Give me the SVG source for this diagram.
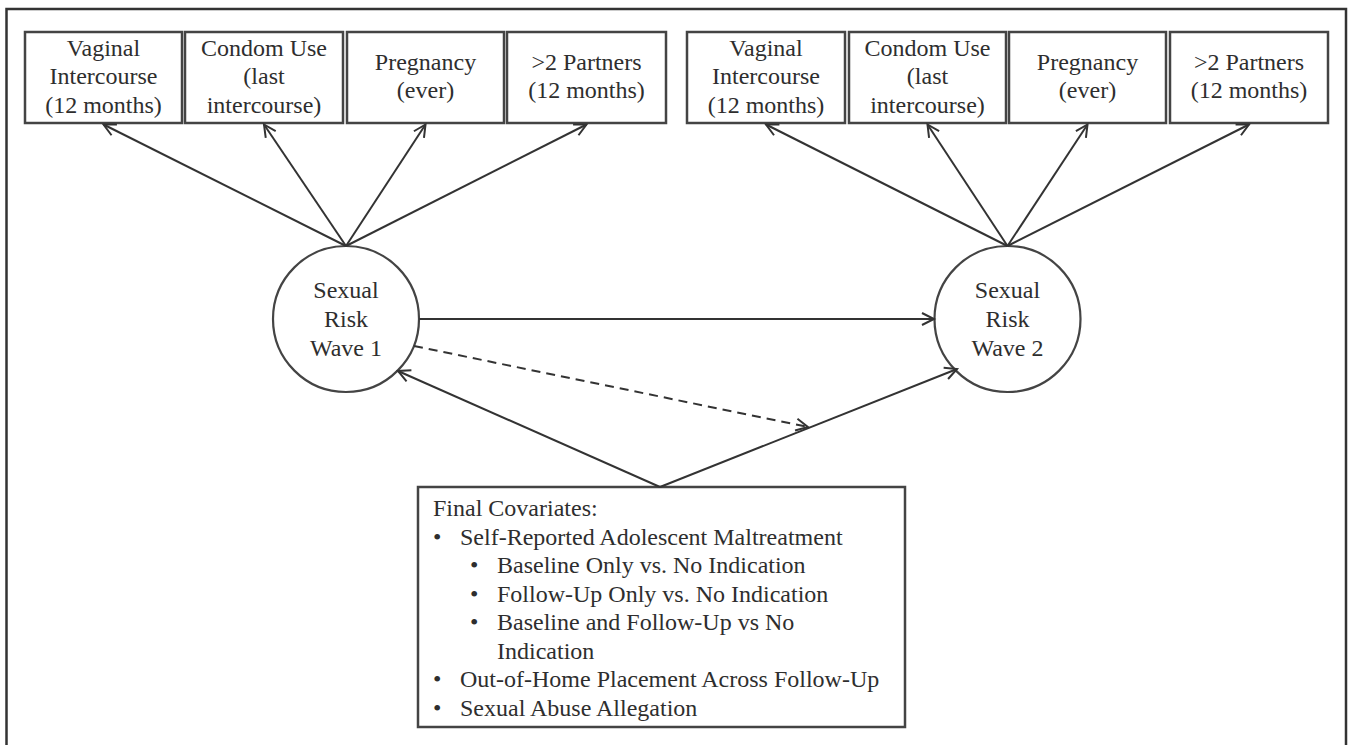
<svg xmlns="http://www.w3.org/2000/svg" width="1351" height="745" viewBox="0 0 1351 745">
<style>
.box{fill:#fff;stroke:#444;stroke-width:2.5}
.t{font-family:"Liberation Serif","Times New Roman",serif;font-size:24px;fill:#2e2e2e}
.c{text-anchor:middle}
.ln{stroke:#333;stroke-width:2;fill:none}
.dash{stroke:#333;stroke-width:2;fill:none;stroke-dasharray:9 6}
</style>
<defs>
<marker id="arr" markerUnits="userSpaceOnUse" markerWidth="16" markerHeight="16" refX="13" refY="7" orient="auto" viewBox="0 0 16 14">
<path d="M1,1 L13,7 L1,13" fill="none" stroke="#333" stroke-width="2"/>
</marker>
</defs>
<rect x="0" y="0" width="1351" height="745" fill="#fff"/>
<rect x="6.5" y="9" width="1339.5" height="745" fill="none" stroke="#333" stroke-width="2.5"/>

<g id="w1-vaginal"><rect class="box" x="25" y="32" width="157" height="91"/>
<text class="t c" x="103.5" y="55.5">Vaginal</text><text class="t c" x="103.5" y="84">Intercourse</text><text class="t c" x="103.5" y="112.5">(12 months)</text></g>
<g id="w1-condom"><rect class="box" x="185" y="32" width="158" height="91"/>
<text class="t c" x="264" y="55.5">Condom Use</text><text class="t c" x="264" y="84">(last</text><text class="t c" x="264" y="112.5">intercourse)</text></g>
<g id="w1-pregnancy"><rect class="box" x="347" y="32" width="157" height="91"/>
<text class="t c" x="425.5" y="69.5">Pregnancy</text><text class="t c" x="425.5" y="98">(ever)</text></g>
<g id="w1-partners"><rect class="box" x="507" y="32" width="159" height="91"/>
<text class="t c" x="586.5" y="69.5">&gt;2 Partners</text><text class="t c" x="586.5" y="98">(12 months)</text></g>

<g id="w2-vaginal"><rect class="box" x="687" y="32" width="158" height="91"/>
<text class="t c" x="766" y="55.5">Vaginal</text><text class="t c" x="766" y="84">Intercourse</text><text class="t c" x="766" y="112.5">(12 months)</text></g>
<g id="w2-condom"><rect class="box" x="849" y="32" width="157" height="91"/>
<text class="t c" x="927.5" y="55.5">Condom Use</text><text class="t c" x="927.5" y="84">(last</text><text class="t c" x="927.5" y="112.5">intercourse)</text></g>
<g id="w2-pregnancy"><rect class="box" x="1009" y="32" width="157" height="91"/>
<text class="t c" x="1087.5" y="69.5">Pregnancy</text><text class="t c" x="1087.5" y="98">(ever)</text></g>
<g id="w2-partners"><rect class="box" x="1170" y="32" width="158" height="91"/>
<text class="t c" x="1249" y="69.5">&gt;2 Partners</text><text class="t c" x="1249" y="98">(12 months)</text></g>

<g id="risk-w1"><circle cx="346" cy="319" r="73" fill="#fff" stroke="#444" stroke-width="2.2"/>
<text class="t c" x="346" y="298">Sexual</text><text class="t c" x="346" y="327">Risk</text><text class="t c" x="346" y="356">Wave 1</text></g>
<g id="risk-w2"><circle cx="1007.5" cy="319" r="73" fill="#fff" stroke="#444" stroke-width="2.2"/>
<text class="t c" x="1007.5" y="298">Sexual</text><text class="t c" x="1007.5" y="327">Risk</text><text class="t c" x="1007.5" y="356">Wave 2</text></g>

<g id="covariates"><rect class="box" x="418" y="487" width="487" height="240"/>
<text class="t" x="433" y="516">Final Covariates:</text>
<text class="t" x="433" y="544.5">•</text><text class="t" x="460" y="544.5">Self-Reported Adolescent Maltreatment</text>
<text class="t" x="470" y="573">•</text><text class="t" x="497" y="573">Baseline Only vs. No Indication</text>
<text class="t" x="470" y="601.5">•</text><text class="t" x="497" y="601.5">Follow-Up Only vs. No Indication</text>
<text class="t" x="470" y="630">•</text><text class="t" x="497" y="630">Baseline and Follow-Up vs No</text>
<text class="t" x="497" y="658.5">Indication</text>
<text class="t" x="433" y="687">•</text><text class="t" x="460" y="687">Out-of-Home Placement Across Follow-Up</text>
<text class="t" x="433" y="715.5">•</text><text class="t" x="460" y="715.5">Sexual Abuse Allegation</text></g>

<g id="connectors">
<line class="ln" x1="346" y1="246" x2="103.5" y2="124.5" marker-end="url(#arr)"/>
<line class="ln" x1="346" y1="246" x2="264" y2="124.5" marker-end="url(#arr)"/>
<line class="ln" x1="346" y1="246" x2="425.5" y2="124.5" marker-end="url(#arr)"/>
<line class="ln" x1="346" y1="246" x2="586.5" y2="124.5" marker-end="url(#arr)"/>
<line class="ln" x1="1007.5" y1="246" x2="766" y2="124.5" marker-end="url(#arr)"/>
<line class="ln" x1="1007.5" y1="246" x2="927.5" y2="124.5" marker-end="url(#arr)"/>
<line class="ln" x1="1007.5" y1="246" x2="1087.5" y2="124.5" marker-end="url(#arr)"/>
<line class="ln" x1="1007.5" y1="246" x2="1249" y2="124.5" marker-end="url(#arr)"/>
<line class="ln" x1="419" y1="319" x2="934" y2="319" marker-end="url(#arr)"/>
<line class="ln" x1="660" y1="487" x2="398" y2="371" marker-end="url(#arr)"/>
<line class="ln" x1="660" y1="487" x2="957" y2="369" marker-end="url(#arr)"/>
<line class="dash" x1="414" y1="346" x2="808" y2="427" marker-end="url(#arr)"/>
</g>
</svg>
